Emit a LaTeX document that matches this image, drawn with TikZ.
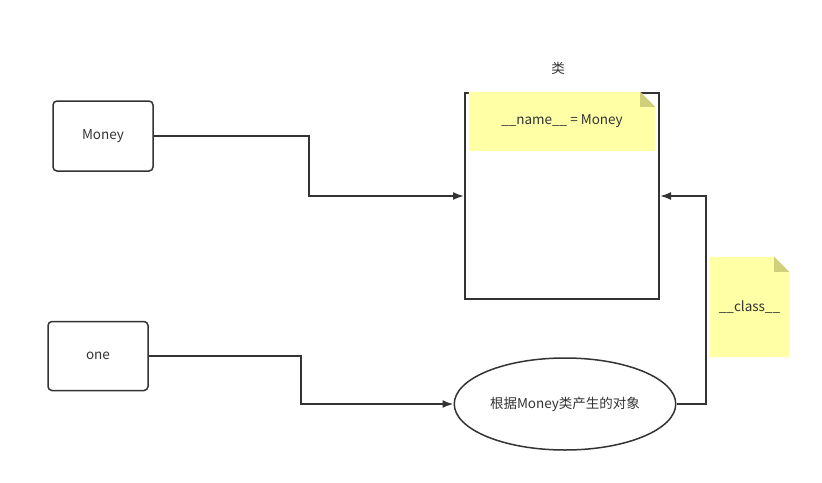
\documentclass[tikz,border=0pt]{standalone}
\usepackage{fontspec}
\setmainfont{Noto Sans CJK SC}
\usetikzlibrary{shapes,shapes.geometric,calc,positioning,arrows.meta}
\definecolor{lineC}{HTML}{333333}
\definecolor{noteY}{HTML}{FFFFA6}
\definecolor{foldY}{HTML}{CFCF7C}

% yellow note with folded corner, drawn behind a named node
\newcommand{\notebg}[1]{
	\fill[noteY] (#1.south west) -- (#1.north west) -- ([xshift=-15pt]#1.north east)
		-- ([yshift=-15pt]#1.north east) -- (#1.south east) -- cycle;
	\fill[foldY] ([xshift=-15pt]#1.north east) -- ([xshift=-15pt,yshift=-15pt]#1.north east)
		-- ([yshift=-15pt]#1.north east) -- cycle;
}

\begin{document}
\begin{tikzpicture}
	[x=1pt,y=-1pt,font=\fontsize{13.5}{15}\selectfont,text=lineC,
	box/.style={rectangle,rounded corners=4pt,draw=lineC,line width=1.5pt,minimum width=100pt,minimum height=70pt},
	clsbox/.style={rectangle,draw=lineC,line width=2pt,minimum width=194pt,minimum height=206pt},
	notetext/.style={rectangle,inner sep=0pt},
	conn/.style={draw=lineC,line width=1.8pt,-{Latex[length=11pt,width=8pt]}}]

	\useasboundingbox (0,0) rectangle (822,482);

	\node[box] (money) at (103,136) {Money};
	\node[box,minimum height=69pt] (one) at (98,356) {one};
	\node[clsbox] (cls) at (562,196) {};
	\node (clslabel) at (558,68) {类};
	\node[ellipse,draw=lineC,line width=1.5pt,minimum width=220pt,minimum height=92pt] (obj) at (565,404) {根据Money类产生的对象};

	\node[notetext,minimum width=186pt,minimum height=59pt] (name) at (562,121.5) {};
	\notebg{name}
	\node at (name) {\_\_name\_\_ = Money};

	\node[notetext,minimum width=79pt,minimum height=100pt] (clsnote) at (749.5,307) {};
	\notebg{clsnote}
	\node at (clsnote) {\_\_class\_\_};

	\coordinate (bend) at (706,300);

	\draw[conn] (money.east) -| ($(money.east)!0.5!(cls.west)$) |- (cls.west);
	\draw[conn] (one.east) -| ($(one.east)!0.5!(obj.west)$) |- (obj.west);
	\draw[conn] (obj.east) -| (bend) |- (cls.east);
\end{tikzpicture}
\end{document}
